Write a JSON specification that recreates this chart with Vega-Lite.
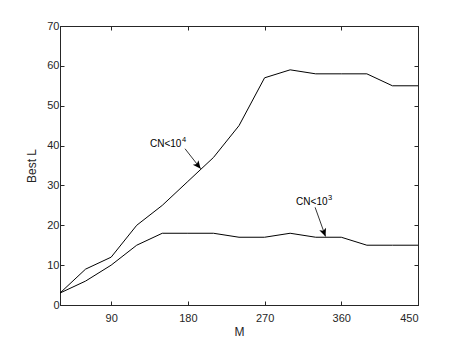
{
  "$schema": "https://vega.github.io/schema/vega-lite/v6.json",
  "autosize": {"type": "none"},
  "width": 358,
  "height": 279,
  "padding": {"left": 60, "top": 26, "right": 45, "bottom": 38},
  "background": "white",
  "config": {
    "view": {"stroke": "#262626", "strokeWidth": 1},
    "font": "Liberation Sans",
    "axis": {
      "domainColor": "#262626",
      "tickColor": "#262626",
      "labelColor": "#262626",
      "titleColor": "#262626",
      "labelFont": "Liberation Sans",
      "titleFont": "Liberation Sans",
      "labelFontSize": 11,
      "titleFontSize": 12,
      "titleFontWeight": "normal",
      "grid": false,
      "tickSize": -4
    }
  },
  "datasets": {
    "lines": [
      {"M": 30, "L": 3, "series": "CN<10^4"},
      {"M": 60, "L": 9, "series": "CN<10^4"},
      {"M": 90, "L": 12, "series": "CN<10^4"},
      {"M": 120, "L": 20, "series": "CN<10^4"},
      {"M": 150, "L": 25, "series": "CN<10^4"},
      {"M": 180, "L": 31, "series": "CN<10^4"},
      {"M": 210, "L": 37, "series": "CN<10^4"},
      {"M": 240, "L": 45, "series": "CN<10^4"},
      {"M": 270, "L": 57, "series": "CN<10^4"},
      {"M": 300, "L": 59, "series": "CN<10^4"},
      {"M": 330, "L": 58, "series": "CN<10^4"},
      {"M": 360, "L": 58, "series": "CN<10^4"},
      {"M": 390, "L": 58, "series": "CN<10^4"},
      {"M": 420, "L": 55, "series": "CN<10^4"},
      {"M": 450, "L": 55, "series": "CN<10^4"},
      {"M": 30, "L": 3, "series": "CN<10^3"},
      {"M": 60, "L": 6, "series": "CN<10^3"},
      {"M": 90, "L": 10, "series": "CN<10^3"},
      {"M": 120, "L": 15, "series": "CN<10^3"},
      {"M": 150, "L": 18, "series": "CN<10^3"},
      {"M": 180, "L": 18, "series": "CN<10^3"},
      {"M": 210, "L": 18, "series": "CN<10^3"},
      {"M": 240, "L": 17, "series": "CN<10^3"},
      {"M": 270, "L": 17, "series": "CN<10^3"},
      {"M": 300, "L": 18, "series": "CN<10^3"},
      {"M": 330, "L": 17, "series": "CN<10^3"},
      {"M": 360, "L": 17, "series": "CN<10^3"},
      {"M": 390, "L": 15, "series": "CN<10^3"},
      {"M": 420, "L": 15, "series": "CN<10^3"},
      {"M": 450, "L": 15, "series": "CN<10^3"}
    ],
    "labels": [
      {"M": 135.6, "L": 39.6, "label": "CN<10", "exp": "4"},
      {"M": 307, "L": 25.1, "label": "CN<10", "exp": "3"}
    ],
    "arrows": [
      {"id": "a", "M": 176.7, "L": 39.2, "M2": 195, "L2": 34.2},
      {"id": "b", "M": 329.3, "L": 24.5, "M2": 341.5, "L2": 17.2}
    ]
  },
  "layer": [
    {
      "data": {"name": "lines"},
      "mark": {"type": "line", "color": "black", "strokeWidth": 1},
      "encoding": {
        "x": {"field": "M", "type": "quantitative", "scale": {"domain": [30, 450], "nice": false},
              "axis": {"orient": "bottom", "values": [90, 180, 270, 360, 450], "title": "M", "labelPadding": 11, "titlePadding": 3}},
        "y": {"field": "L", "type": "quantitative", "scale": {"domain": [0, 70], "nice": false},
              "axis": {"orient": "left", "values": [0, 10, 20, 30, 40, 50, 60, 70], "title": "Best L", "labelPadding": 5, "titlePadding": 8}},
        "detail": {"field": "series"}
      }
    },
    {
      "data": {"name": "lines"},
      "mark": {"type": "line", "opacity": 0},
      "encoding": {
        "x": {"field": "M", "type": "quantitative",
              "axis": {"orient": "top", "values": [90, 180, 270, 360, 450], "labels": false, "title": null}},
        "y": {"field": "L", "type": "quantitative",
              "axis": {"orient": "right", "values": [0, 10, 20, 30, 40, 50, 60, 70], "labels": false, "title": null}},
        "detail": {"field": "series"}
      }
    },
    {
      "data": {"name": "labels"},
      "mark": {"type": "text", "font": "Liberation Sans", "fontSize": 10, "color": "black", "align": "left", "baseline": "alphabetic"},
      "encoding": {
        "x": {"field": "M", "type": "quantitative", "axis": null},
        "y": {"field": "L", "type": "quantitative", "axis": null},
        "text": {"field": "label"}
      }
    },
    {
      "data": {"name": "labels"},
      "mark": {"type": "text", "font": "Liberation Sans", "fontSize": 7.5, "color": "black", "align": "left", "baseline": "alphabetic", "dx": 32, "dy": -5},
      "encoding": {
        "x": {"field": "M", "type": "quantitative", "axis": null},
        "y": {"field": "L", "type": "quantitative", "axis": null},
        "text": {"field": "exp"}
      }
    },
    {
      "data": {"name": "arrows"},
      "mark": {"type": "rule", "color": "black", "strokeWidth": 0.8},
      "encoding": {
        "x": {"field": "M", "type": "quantitative", "axis": null},
        "y": {"field": "L", "type": "quantitative", "axis": null},
        "x2": {"field": "M2"},
        "y2": {"field": "L2"}
      }
    },
    {
      "data": {"name": "arrows"},
      "transform": [{"filter": "datum.id === 'a'"}],
      "mark": {"type": "point", "shape": "M0,0 L-0.45,-1 L0,-0.75 L0.45,-1 Z", "filled": true, "color": "black", "size": 256, "angle": -39, "opacity": 1},
      "encoding": {
        "x": {"field": "M2", "type": "quantitative", "axis": null},
        "y": {"field": "L2", "type": "quantitative", "axis": null}
      }
    },
    {
      "data": {"name": "arrows"},
      "transform": [{"filter": "datum.id === 'b'"}],
      "mark": {"type": "point", "shape": "M0,0 L-0.45,-1 L0,-0.75 L0.45,-1 Z", "filled": true, "color": "black", "size": 256, "angle": -21, "opacity": 1},
      "encoding": {
        "x": {"field": "M2", "type": "quantitative", "axis": null},
        "y": {"field": "L2", "type": "quantitative", "axis": null}
      }
    }
  ],
  "resolve": {"axis": {"x": "independent", "y": "independent"}}
}
